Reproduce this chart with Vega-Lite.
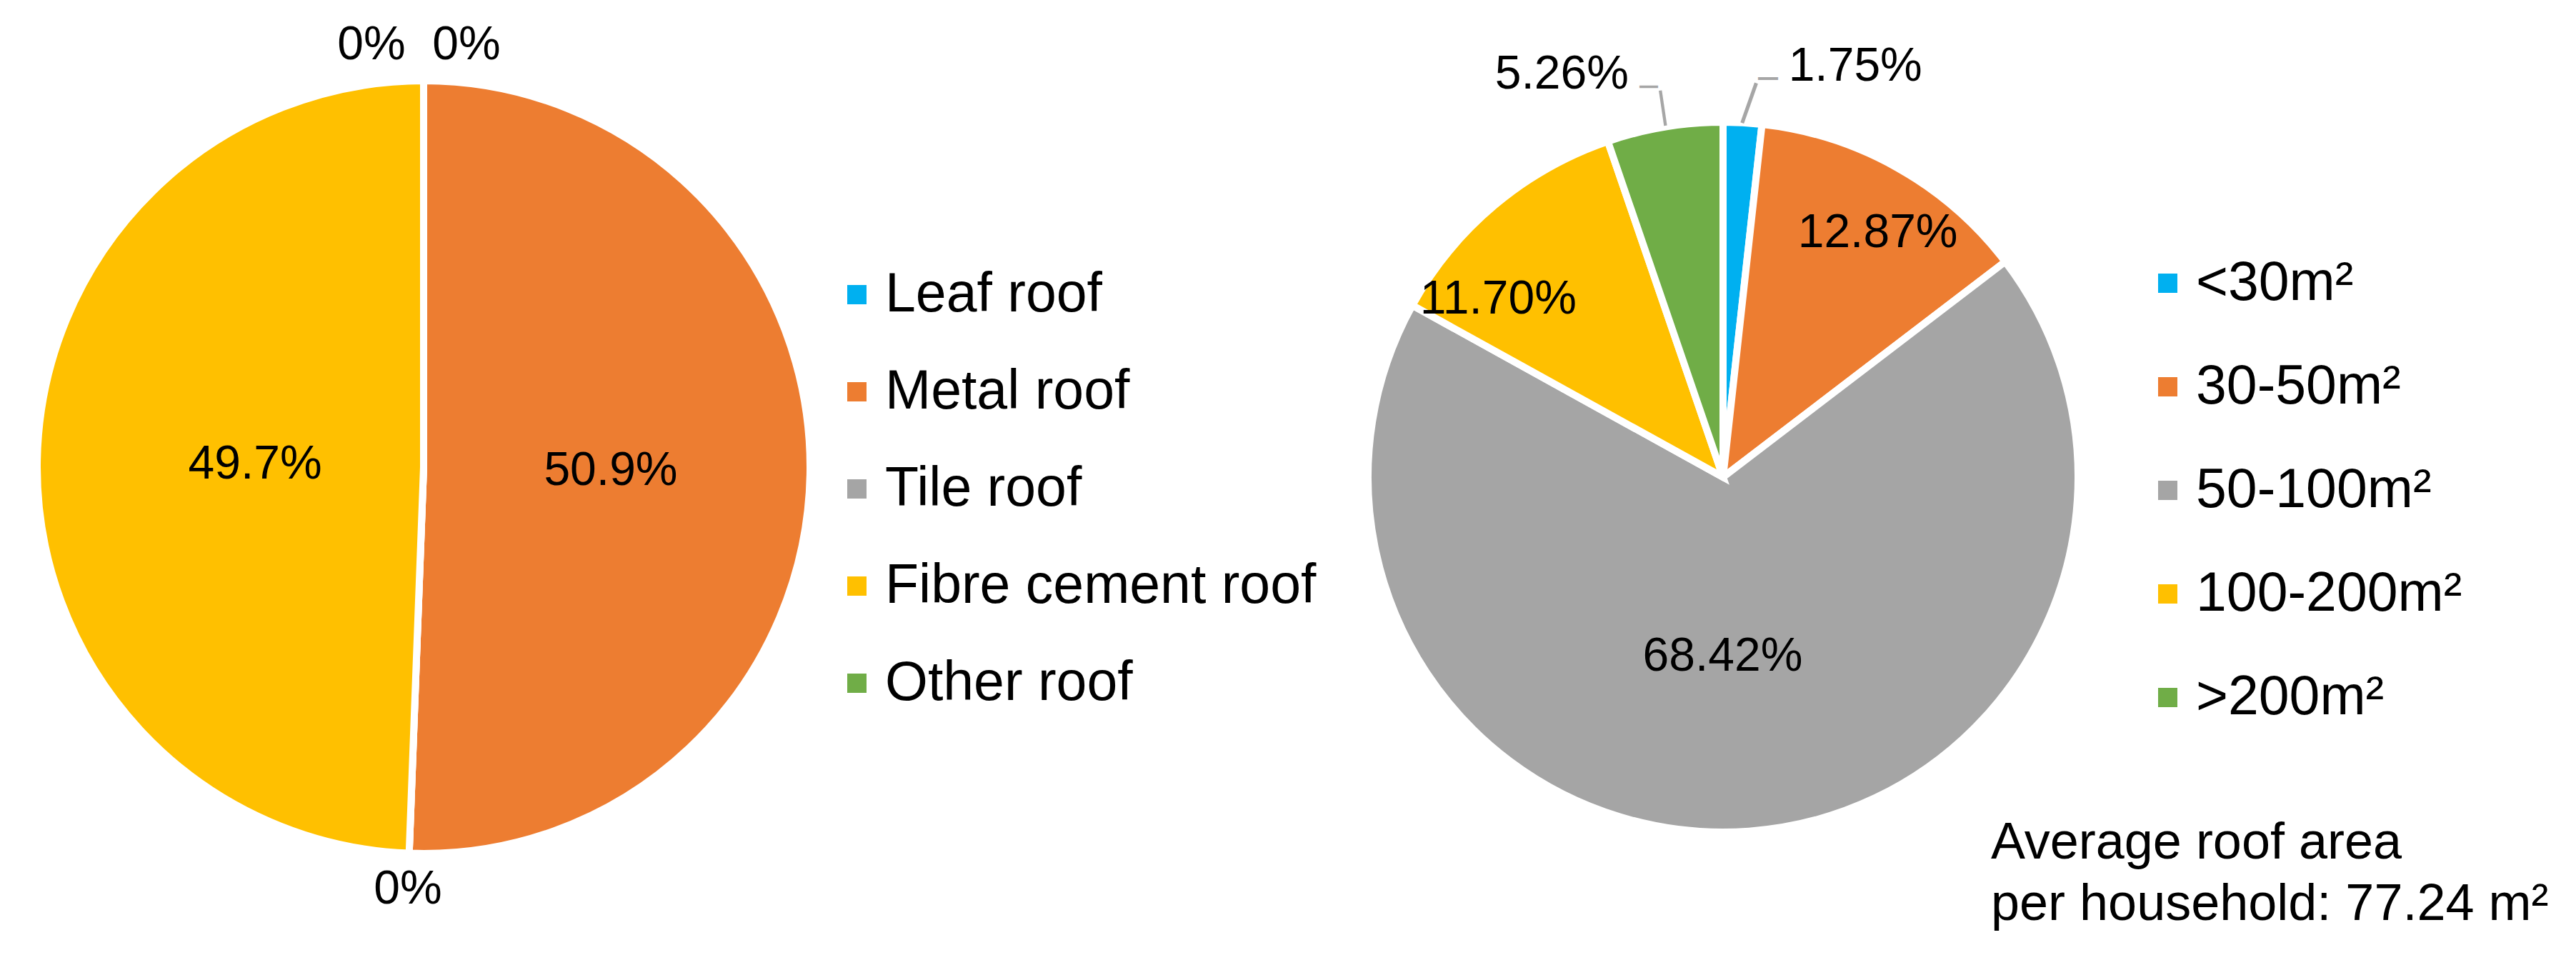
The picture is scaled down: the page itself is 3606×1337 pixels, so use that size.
{
  "$schema": "https://vega.github.io/schema/vega-lite/v6.json",
  "background": "white",
  "padding": {"left": -71, "top": 0, "right": 0, "bottom": 0},
  "bounds": "flush",
  "spacing": 727,
  "datasets": {
    "roofs": [
      {"roof": "Leaf roof", "value": 0, "label": "0%", "i": 1},
      {"roof": "Metal roof", "value": 50.9, "label": "50.9%", "i": 2},
      {"roof": "Tile roof", "value": 0, "label": "0%", "i": 3},
      {"roof": "Fibre cement roof", "value": 49.7, "label": "49.7%", "i": 4},
      {"roof": "Other roof", "value": 0, "label": "0%", "i": 5}
    ],
    "areas": [
      {"area": "<30m²", "value": 1.75, "label": "1.75%", "i": 1},
      {"area": "30-50m²", "value": 12.87, "label": "12.87%", "i": 2},
      {"area": "50-100m²", "value": 68.42, "label": "68.42%", "i": 3},
      {"area": "100-200m²", "value": 11.70, "label": "11.70%", "i": 4},
      {"area": ">200m²", "value": 5.26, "label": "5.26%", "i": 5}
    ]
  },
  "resolve": {"scale": {"color": "independent", "theta": "independent"}, "legend": {"color": "independent"}},
  "hconcat": [
    {
      "width": 1184,
      "height": 1308,
      "data": {"name": "roofs"},
      "layer": [
        {
          "mark": {"type": "arc", "outerRadius": 541, "stroke": "white", "strokeWidth": 10},
          "encoding": {
            "theta": {"field": "value", "type": "quantitative", "stack": true},
            "order": {"field": "i", "type": "quantitative"},
            "color": {
              "field": "roof", "type": "nominal",
              "scale": {"domain": ["Leaf roof", "Metal roof", "Tile roof", "Fibre cement roof", "Other roof"], "range": ["#00B0F0", "#ED7D31", "#A5A5A5", "#FFC000", "#70AD47"]},
              "legend": {"orient": "none", "legendX": 1160, "legendY": 374, "title": null, "rowPadding": 58}
            }
          }
        },
        {
          "mark": {"type": "text", "radius": 262, "font": "Liberation Sans", "fontSize": 66, "color": "black", "align": "center", "baseline": "middle"},
          "encoding": {
            "theta": {"field": "value", "type": "quantitative", "stack": true},
            "order": {"field": "i", "type": "quantitative"},
            "detail": {"field": "roof"},
            "text": {"condition": {"test": "datum.roof === 'Metal roof'", "field": "label"}, "value": ""}
          }
        },
        {
          "mark": {"type": "text", "radius": 236, "font": "Liberation Sans", "fontSize": 66, "color": "black", "align": "center", "baseline": "middle"},
          "encoding": {
            "theta": {"field": "value", "type": "quantitative", "stack": true},
            "order": {"field": "i", "type": "quantitative"},
            "detail": {"field": "roof"},
            "text": {"condition": {"test": "datum.roof === 'Fibre cement roof'", "field": "label"}, "value": ""}
          }
        },
        {
          "mark": {"type": "text", "radius": 591, "font": "Liberation Sans", "fontSize": 66, "color": "black", "align": "center", "baseline": "middle"},
          "encoding": {
            "theta": {"field": "value", "type": "quantitative", "stack": true},
            "order": {"field": "i", "type": "quantitative"},
            "detail": {"field": "roof"},
            "text": {"condition": {"test": "datum.roof === 'Tile roof'", "field": "label"}, "value": ""}
          }
        },
        {
          "mark": {"type": "text", "radius": 591, "dx": 60, "font": "Liberation Sans", "fontSize": 66, "color": "black", "align": "center", "baseline": "middle"},
          "encoding": {
            "theta": {"field": "value", "type": "quantitative", "stack": true},
            "order": {"field": "i", "type": "quantitative"},
            "detail": {"field": "roof"},
            "text": {"condition": {"test": "datum.roof === 'Leaf roof'", "field": "label"}, "value": ""}
          }
        },
        {
          "mark": {"type": "text", "radius": 591, "dx": -73, "font": "Liberation Sans", "fontSize": 66, "color": "black", "align": "center", "baseline": "middle"},
          "encoding": {
            "theta": {"field": "value", "type": "quantitative", "stack": true},
            "order": {"field": "i", "type": "quantitative"},
            "detail": {"field": "roof"},
            "text": {"condition": {"test": "datum.roof === 'Other roof'", "field": "label"}, "value": ""}
          }
        }
      ]
    },
    {
      "width": 1000,
      "height": 1336,
      "data": {"name": "areas"},
      "title": {
        "text": ["Average roof area", "per household: 77.24 m²"],
        "orient": "bottom", "frame": "group", "anchor": "start", "align": "left",
        "offset": -134, "dx": 875, "baseline": "alphabetic",
        "font": "Liberation Sans", "fontSize": 72, "fontWeight": "normal", "color": "black", "lineHeight": 86
      },
      "layer": [
        {
          "mark": {"type": "arc", "outerRadius": 497, "stroke": "white", "strokeWidth": 10},
          "encoding": {
            "theta": {"field": "value", "type": "quantitative", "stack": true},
            "order": {"field": "i", "type": "quantitative"},
            "color": {
              "field": "area", "type": "nominal",
              "scale": {"domain": ["<30m²", "30-50m²", "50-100m²", "100-200m²", ">200m²"], "range": ["#00B0F0", "#ED7D31", "#A5A5A5", "#FFC000", "#70AD47"]},
              "legend": {"orient": "none", "legendX": 1084, "legendY": 358, "title": null, "rowPadding": 67}
            }
          }
        },
        {
          "mark": {"type": "text", "radius": 418, "dx": 11, "dy": 22, "font": "Liberation Sans", "fontSize": 66, "color": "black", "align": "center", "baseline": "middle"},
          "encoding": {
            "theta": {"field": "value", "type": "quantitative", "stack": true},
            "order": {"field": "i", "type": "quantitative"},
            "detail": {"field": "area"},
            "text": {"condition": {"test": "datum.area === '30-50m²'", "field": "label"}, "value": ""}
          }
        },
        {
          "mark": {"type": "text", "radius": 390, "dx": -64, "dy": 50, "font": "Liberation Sans", "fontSize": 66, "color": "black", "align": "center", "baseline": "middle"},
          "encoding": {
            "theta": {"field": "value", "type": "quantitative", "stack": true},
            "order": {"field": "i", "type": "quantitative"},
            "detail": {"field": "area"},
            "text": {"condition": {"test": "datum.area === '100-200m²'", "field": "label"}, "value": ""}
          }
        },
        {
          "mark": {"type": "text", "radius": 252, "dx": -19, "font": "Liberation Sans", "fontSize": 66, "color": "black", "align": "center", "baseline": "middle"},
          "encoding": {
            "theta": {"field": "value", "type": "quantitative", "stack": true},
            "order": {"field": "i", "type": "quantitative"},
            "detail": {"field": "area"},
            "text": {"condition": {"test": "datum.area === '50-100m²'", "field": "label"}, "value": ""}
          }
        },
        {
          "mark": {"type": "text", "radius": 576, "dx": 60, "font": "Liberation Sans", "fontSize": 66, "color": "black", "align": "left", "baseline": "middle"},
          "encoding": {
            "theta": {"field": "value", "type": "quantitative", "stack": true},
            "order": {"field": "i", "type": "quantitative"},
            "detail": {"field": "area"},
            "text": {"condition": {"test": "datum.area === '<30m²'", "field": "label"}, "value": ""}
          }
        },
        {
          "mark": {"type": "text", "radius": 572, "dx": -38, "font": "Liberation Sans", "fontSize": 66, "color": "black", "align": "right", "baseline": "middle"},
          "encoding": {
            "theta": {"field": "value", "type": "quantitative", "stack": true},
            "order": {"field": "i", "type": "quantitative"},
            "detail": {"field": "area"},
            "text": {"condition": {"test": "datum.area === '>200m²'", "field": "label"}, "value": ""}
          }
        },
        {
          "mark": {"type": "text", "radius": 527, "dx": 8, "dy": -3, "angle": 19.5, "font": "Liberation Sans", "fontSize": 63, "color": "#A6A6A6", "align": "center", "baseline": "middle"},
          "encoding": {
            "theta": {"field": "value", "type": "quantitative", "stack": true},
            "order": {"field": "i", "type": "quantitative"},
            "detail": {"field": "area"},
            "text": {"condition": {"test": "datum.area === '<30m²'", "value": "|"}, "value": ""}
          }
        },
        {
          "mark": {"type": "text", "radius": 559, "dx": 0, "dy": -33, "angle": 90, "font": "Liberation Sans", "fontSize": 30, "fontWeight": "bold", "color": "#A6A6A6", "align": "center", "baseline": "middle"},
          "encoding": {
            "theta": {"field": "value", "type": "quantitative", "stack": true},
            "order": {"field": "i", "type": "quantitative"},
            "detail": {"field": "area"},
            "text": {"condition": {"test": "datum.area === '<30m²'", "value": "|"}, "value": ""}
          }
        },
        {
          "mark": {"type": "text", "radius": 526, "dx": 2, "angle": 351.6, "font": "Liberation Sans", "fontSize": 53, "color": "#A6A6A6", "align": "center", "baseline": "middle"},
          "encoding": {
            "theta": {"field": "value", "type": "quantitative", "stack": true},
            "order": {"field": "i", "type": "quantitative"},
            "detail": {"field": "area"},
            "text": {"condition": {"test": "datum.area === '>200m²'", "value": "|"}, "value": ""}
          }
        },
        {
          "mark": {"type": "text", "radius": 554, "dx": 0, "dy": 12, "angle": 90, "font": "Liberation Sans", "fontSize": 28, "fontWeight": "bold", "color": "#A6A6A6", "align": "center", "baseline": "middle"},
          "encoding": {
            "theta": {"field": "value", "type": "quantitative", "stack": true},
            "order": {"field": "i", "type": "quantitative"},
            "detail": {"field": "area"},
            "text": {"condition": {"test": "datum.area === '>200m²'", "value": "|"}, "value": ""}
          }
        }
      ]
    }
  ],
  "config": {
    "view": {"stroke": null},
    "font": "Liberation Sans",
    "legend": {
      "labelFont": "Liberation Sans", "labelFontSize": 77, "labelColor": "black", "labelLimit": 0,
      "symbolType": "square", "symbolSize": 729, "symbolStrokeWidth": 0, "labelOffset": 1, "padding": 0, "labelBaseline": "middle"
    }
  }
}
